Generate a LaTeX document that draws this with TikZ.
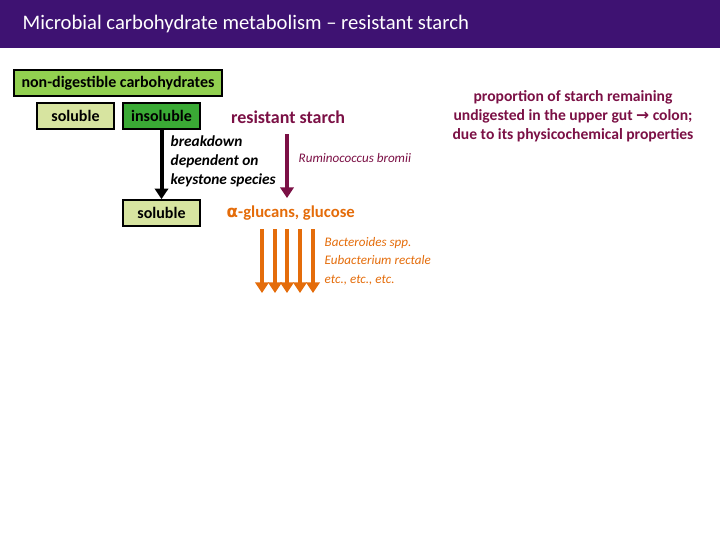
\documentclass[tikz,border=0pt]{standalone}
\usepackage{fontspec}
\setmainfont{Carlito}
\newfontfamily\djv{DejaVu Sans}
\usetikzlibrary{arrows.meta}
\definecolor{hdr}{HTML}{3E1272}
\definecolor{maroon}{HTML}{7B1045}
\definecolor{org}{HTML}{E46C0A}
\definecolor{lg}{HTML}{92D050}
\definecolor{pg}{HTML}{D7E4A0}
\definecolor{dg}{HTML}{3AAA35}
\begin{document}
\begin{tikzpicture}[x=0.75pt,y=-0.75pt,
 box/.style={draw=black,line width=1.2pt,inner sep=0pt,font=\bfseries\fontsize{12}{14}\selectfont},
 arr/.style={line width=3pt,-{Triangle[length=8pt,width=10pt]}}]
\useasboundingbox (0,0) rectangle (720,540);
\fill[hdr] (0,0) rectangle (720,48);
\node[anchor=west,text=white,font=\fontsize{15.5}{18}\selectfont] (title) at (18,24) {Microbial carbohydrate metabolism – resistant starch};
\node[box,fill=lg,minimum width=156pt,minimum height=19.5pt] (nd) at (118,83) {non-digestible carbohydrates};
\node[box,fill=pg,minimum width=57.75pt,minimum height=19.5pt] (s1) at (75.5,116) {soluble};
\node[box,fill=dg,minimum width=57.75pt,minimum height=19.5pt] (ins) at (161.5,116) {insoluble};
\node[box,fill=pg,minimum width=57.75pt,minimum height=19.5pt] (s2) at (161.5,213) {soluble};
\node[text=maroon,font=\bfseries\fontsize{13.5}{15}\selectfont] (rs) at (288,117) {resistant starch};
\coordinate (rsb) at (287,134);
\coordinate (ag) at (287,198);
\node[anchor=west,text=org,font=\bfseries\fontsize{12.5}{15}\selectfont] (agl) at (222,213) {{\djv α}-glucans, glucose};
\draw[arr] (ins.south) -- (s2.north);
\draw[arr,maroon] (rsb) -- (ag);
\node[anchor=west,align=left,font=\bfseries\itshape\fontsize{11.5}{14.3}\selectfont] (bd) at (166,161) {breakdown\\dependent on\\keystone species};
\node[anchor=west,text=maroon,font=\itshape\fontsize{9.8}{11}\selectfont] (rb) at (294,158) {Ruminococcus bromii};
\foreach \x [count=\i] in {262,275,287,300,313}{
 \coordinate (t\i) at (\x,229); \coordinate (h\i) at (\x,293);
 \draw[arr,org,line width=2.8pt] (t\i) -- (h\i);}
\node[anchor=west,align=left,text=org,font=\itshape\fontsize{9.8}{14}\selectfont] (bac) at (320,261) {Bacteroides spp.\\Eubacterium rectale\\etc., etc., etc.};
\node[align=center,text=maroon,font=\bfseries\fontsize{11.7}{14.3}\selectfont] (prop) at (573,116) {proportion of starch remaining\\undigested in the upper gut {\djv →} colon;\\due to its physicochemical properties};
\end{tikzpicture}
\end{document}
